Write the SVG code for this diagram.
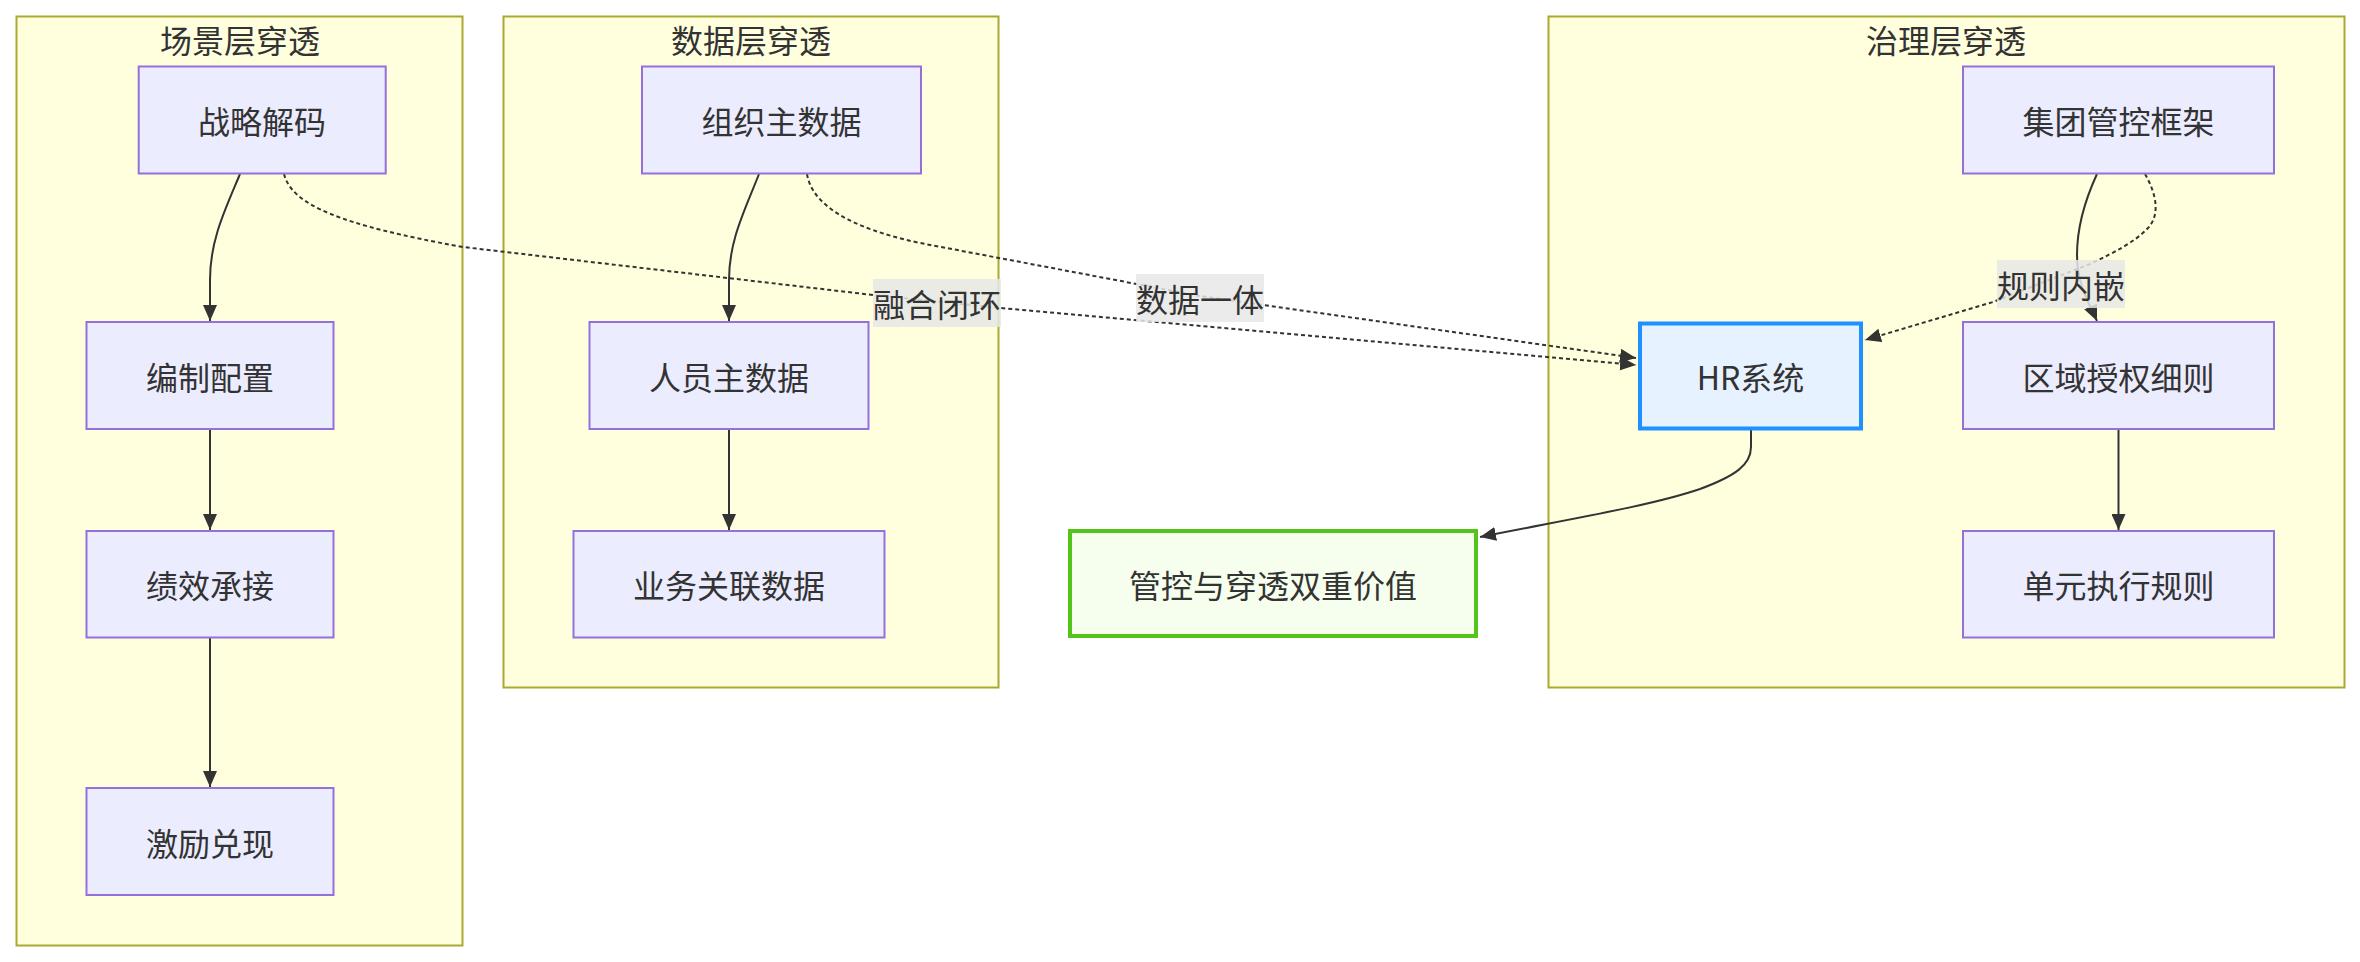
<svg xmlns="http://www.w3.org/2000/svg" width="2360" height="962" viewBox="0 0 2360 962">
<style>
text{font-family:"Noto Sans CJK SC","Noto Sans",sans-serif;font-size:32px;fill:#333;text-anchor:middle;dominant-baseline:central}
.cluster{fill:#ffffde;stroke:#aaaa33;stroke-width:2}
.node{fill:#ececff;stroke:#9370db;stroke-width:2}
.hr{fill:#e6f2ff;stroke:#1e90ff;stroke-width:4}
.val{fill:#f6ffed;stroke:#52c41a;stroke-width:4}
.edge{fill:none;stroke:#333;stroke-width:2}
.dot{fill:none;stroke:#333;stroke-width:2;stroke-dasharray:4 3}
.lbl{fill:#e8e8e8;fill-opacity:0.85}
</style>
<defs>
<marker id="arr" markerUnits="userSpaceOnUse" viewBox="0 0 16 14" markerWidth="16" markerHeight="14" refX="16" refY="7" orient="auto">
<path d="M0,0 L16,7 L0,14 z" fill="#333"/>
</marker>
</defs>
<g id="clusters">
<g id="cluster-scene"><rect class="cluster" x="16.5" y="16.5" width="446" height="929"/><text x="240" y="39">场景层穿透</text></g>
<g id="cluster-data"><rect class="cluster" x="503.5" y="16.5" width="495" height="671"/><text x="751" y="39">数据层穿透</text></g>
<g id="cluster-gov"><rect class="cluster" x="1548.5" y="16.5" width="796" height="671"/><text x="1946" y="39">治理层穿透</text></g>
</g>
<g id="connectors">
<path class="edge" d="M240,174 C225,210 210,240 210,280 L210,321" marker-end="url(#arr)"/>
<path class="edge" d="M210,430 L210,530" marker-end="url(#arr)"/>
<path class="edge" d="M210,638 L210,787" marker-end="url(#arr)"/>
<path class="edge" d="M759,174 C745,210 729,240 729,280 L729,321" marker-end="url(#arr)"/>
<path class="edge" d="M729,430 L729,530" marker-end="url(#arr)"/>
<path class="edge" d="M2118.5,430 L2118.5,530" marker-end="url(#arr)"/>
<path class="edge" d="M2097,174 C2085,200 2077,228 2077,255 C2077,285 2090,305 2097,321" marker-end="url(#arr)"/>
<path class="edge" d="M1751,430 L1751,447 C1751,465 1735,476 1700,489 C1650,506 1570,519 1480,537" marker-end="url(#arr)"/>
<path class="dot" d="M284,174 C292,205 340,225 463,247 L873,295 L1001,308 L1636,365" marker-end="url(#arr)"/>
<path class="dot" d="M807,174 C812,205 850,228 920,243 L1200,296 L1636,358" marker-end="url(#arr)"/>
<path class="dot" d="M2145,174 C2157,195 2160,215 2148,228 C2135,242 2115,252 2090,264 L1993,302 L1865,340" marker-end="url(#arr)"/>
<g id="edge-labels">
<rect class="lbl" x="873" y="279" width="128" height="48"/><text x="937" y="303">融合闭环</text>
<rect class="lbl" x="1136" y="274" width="128" height="48"/><text x="1200" y="298">数据一体</text>
<rect class="lbl" x="1997" y="260" width="128" height="48"/><text x="2061" y="284">规则内嵌</text>
</g>
</g>
<g id="n-zlzm"><rect class="node" x="138.7" y="66.5" width="247" height="107"/><text x="262" y="120">战略解码</text></g>
<g id="n-bzpz"><rect class="node" x="86.5" y="322" width="247" height="107"/><text x="210" y="375.5">编制配置</text></g>
<g id="n-jxcj"><rect class="node" x="86.5" y="531" width="247" height="106.5"/><text x="210" y="584">绩效承接</text></g>
<g id="n-jldx"><rect class="node" x="86.5" y="788" width="247" height="107"/><text x="210" y="841.5">激励兑现</text></g>
<g id="n-zzzsj"><rect class="node" x="642" y="66.5" width="279" height="107"/><text x="781.5" y="120">组织主数据</text></g>
<g id="n-ryzsj"><rect class="node" x="589.5" y="322" width="279" height="107"/><text x="729" y="375.5">人员主数据</text></g>
<g id="n-ywglsj"><rect class="node" x="573.5" y="531" width="311" height="106.5"/><text x="729" y="584">业务关联数据</text></g>
<g id="n-value"><rect class="val" x="1070" y="531" width="406" height="105"/><text x="1273" y="584">管控与穿透双重价值</text></g>
<g id="n-hr"><rect class="hr" x="1640" y="323.5" width="221" height="105"/><text x="1750.5" y="376">HR系统</text></g>
<g id="n-jtgk"><rect class="node" x="1963" y="66.5" width="311" height="107"/><text x="2118.5" y="120">集团管控框架</text></g>
<g id="n-qysq"><rect class="node" x="1963" y="322" width="311" height="107"/><text x="2118.5" y="375.5">区域授权细则</text></g>
<g id="n-dyzx"><rect class="node" x="1963" y="531" width="311" height="106.5"/><text x="2118.5" y="584">单元执行规则</text></g>
</svg>
